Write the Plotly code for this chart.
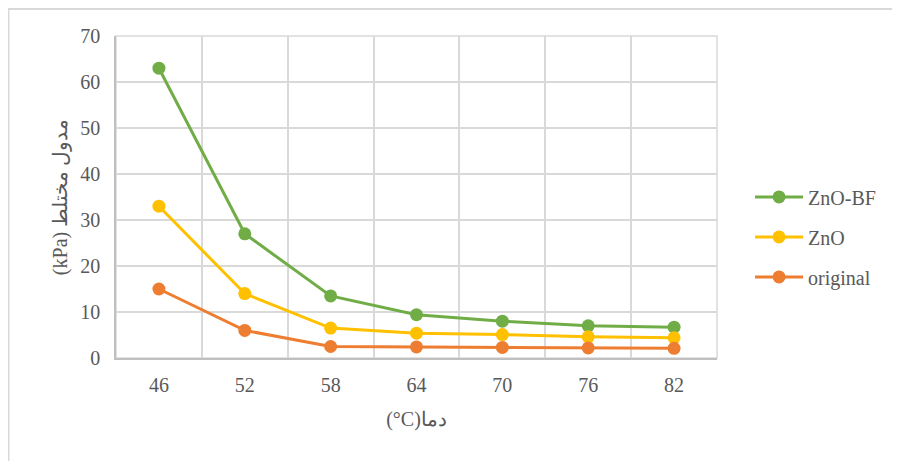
import plotly.graph_objects as go

# temperatures (category axis) and complex modulus values (kPa)
temps = ["46", "52", "58", "64", "70", "76", "82"]
zno_bf = [63, 27, 13.5, 9.4, 8.0, 7.0, 6.7]
zno = [33, 14, 6.5, 5.4, 5.1, 4.6, 4.4]
original = [15, 6, 2.5, 2.4, 2.3, 2.2, 2.1]

GREEN = "#70AD47"
YELLOW = "#FFC000"
ORANGE = "#ED7D31"
TEXT = "#595959"
GRID = "#D9D9D9"
SERIF = "Liberation Serif, Times New Roman, serif"

fig = go.Figure()

for name, vals, color in [("ZnO-BF", zno_bf, GREEN),
                          ("ZnO", zno, YELLOW),
                          ("original", original, ORANGE)]:
    fig.add_trace(go.Scatter(
        x=temps, y=vals,
        name=name, legendgroup=name,
        mode="lines+markers",
        line=dict(color=color, width=3),
        marker=dict(color=color, size=13),
    ))

# outer chart frame (partly cropped in the reference)
fig.add_shape(type="rect", xref="paper", yref="paper",
              x0=-0.1789, x1=2, y0=-0.5, y1=1.0839,
              line=dict(color=GRID, width=2), layer="below")

# light border on top/right of plot area
fig.add_shape(type="rect", xref="paper", yref="paper",
              x0=0, x1=1, y0=0, y1=1,
              line=dict(color=GRID, width=1.5), layer="below")

# page body has an 8px margin, so the figure is 8px smaller
fig.update_layout(
    width=892, height=453,
    paper_bgcolor="white", plot_bgcolor="white",
    font=dict(family=SERIF, color=TEXT, size=20),
    margin=dict(l=108, r=183, t=28, b=103),
    showlegend=True,
    legend=dict(x=1.055, xanchor="left", y=0.376, yanchor="middle",
                font=dict(family=SERIF, size=20, color=TEXT),
                tracegroupgap=11, itemwidth=48,
                bgcolor="rgba(0,0,0,0)"),
    xaxis=dict(
        type="category", range=[-0.5, 6.5],
        showgrid=True, gridcolor=GRID, gridwidth=1.5,
        tickson="boundaries", ticks="",
        showline=True, linecolor="#BFBFBF", linewidth=2,
        tickfont=dict(family=SERIF, size=20, color=TEXT),
        ticklabelstandoff=8,
        title=dict(text="(°C)دما", standoff=17,
                   font=dict(family=SERIF, size=20, color=TEXT)),
        automargin=False,
    ),
    yaxis=dict(
        range=[0, 70], dtick=10,
        showgrid=True, gridcolor=GRID, gridwidth=1.5,
        zeroline=False, ticks="",
        showline=True, linecolor="#BFBFBF", linewidth=1.5,
        tickfont=dict(family=SERIF, size=20, color=TEXT),
        ticklabelstandoff=10,
        title=dict(text="(kPa) مدول مختلط", standoff=7,
                   font=dict(family=SERIF, size=20, color=TEXT)),
        automargin=False,
    ),
)

fig.write_html("out.html")
